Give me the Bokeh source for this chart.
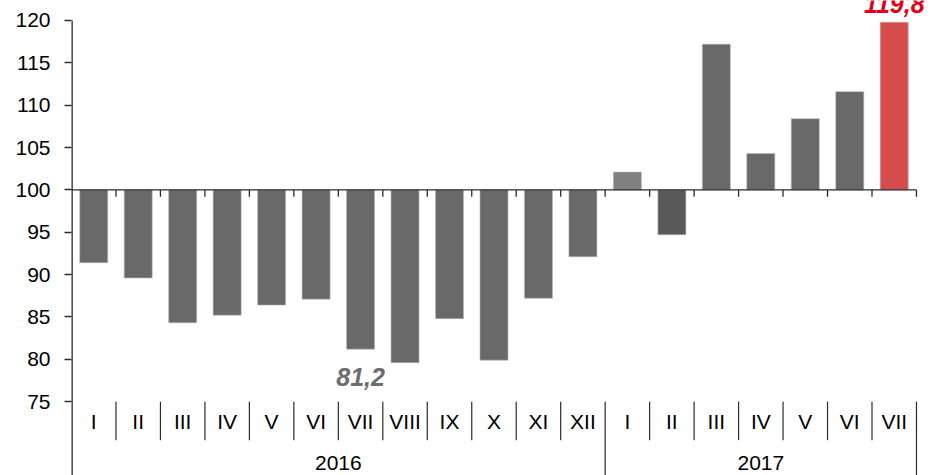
import numpy as np
from bokeh.plotting import figure
from bokeh.models import FixedTicker, Range1d
from bokeh.core.properties import value
from bokeh.embed import file_html
from bokeh.resources import INLINE

# ---- data ----
months = ["I", "II", "III", "IV", "V", "VI", "VII", "VIII", "IX", "X", "XI", "XII",
          "I", "II", "III", "IV", "V", "VI", "VII"]
years = ["2016", "2017"]
year_counts = [12, 7]
values = [91.4, 89.6, 84.3, 85.2, 86.4, 87.1, 81.2, 79.6, 84.8, 79.9, 87.2, 92.1,
          102.1, 94.7, 117.2, 104.3, 108.4, 111.6, 119.8]
y_ticks = [75, 80, 85, 90, 95, 100, 105, 110, 115, 120]
baseline = 100
labelled_low = 6      # index of the bar annotated below (VII 2016)
labelled_high = 18    # index of the bar annotated above (VII 2017)

# ---- styles ----
bar_colors = ["#696969"] * 12 + ["#808080", "#595959", "#696969", "#696969",
                                 "#696969", "#696969", "#d64b4b"]
FONT = "Liberation Sans"
AXIS_COLOR = "#2b2b2b"

n = len(values)
xc = np.arange(n) + 0.5
y_top, y_bottom = y_ticks[-1], y_ticks[0]

p = figure(width=933, height=475, output_backend="svg", toolbar_location=None,
           x_range=Range1d(0, n + 0.383), y_range=Range1d(66.28, 122.36),
           x_axis_location=None, min_border_left=71, min_border_right=0,
           min_border_top=0, min_border_bottom=0, outline_line_color=None,
           background_fill_color="white", border_fill_color="white")
p.grid.visible = False

p.vbar(x=xc, width=0.63, bottom=baseline, top=values, fill_color=bar_colors,
       line_color="#b8b8b8", line_width=0.8, line_alpha=0.7)

# y axis (line drawn separately so it stops at the top tick)
ya = p.yaxis[0]
ya.ticker = FixedTicker(ticks=y_ticks)
ya.axis_line_color = None
ya.major_tick_line_color = AXIS_COLOR
ya.major_tick_line_width = 1.3
ya.major_tick_out = 7
ya.major_tick_in = 0
ya.minor_tick_line_color = None
ya.major_label_text_font = FONT
ya.major_label_text_font_size = "21px"
ya.major_label_text_color = "black"
ya.major_label_standoff = 14
p.segment(x0=[0], y0=[60], x1=[0], y1=[y_top], line_color=AXIS_COLOR, line_width=2.6)

# horizontal axis at 100 with downward ticks at category boundaries
p.segment(x0=[0], y0=[baseline], x1=[n], y1=[baseline], line_color=AXIS_COLOR, line_width=1.3)
bx = np.arange(1, n + 1)
p.segment(x0=bx, y0=[baseline] * n, x1=bx, y1=[baseline - 0.8] * n,
          line_color=AXIS_COLOR, line_width=1.3)

# category axis below (months + years)
year_bounds = np.concatenate([[0], np.cumsum(year_counts)])
month_bounds = [b for b in range(1, n) if b not in year_bounds]
p.segment(x0=month_bounds, y0=[y_bottom] * len(month_bounds), x1=month_bounds,
          y1=[y_bottom - 4.55] * len(month_bounds), line_color=AXIS_COLOR, line_width=1.2)
yb = [int(b) for b in year_bounds[1:]]
p.segment(x0=yb, y0=[y_bottom] * len(yb), x1=yb, y1=[60] * len(yb),
          line_color=AXIS_COLOR, line_width=1.2)

p.text(x=xc, y=[y_bottom - 2.3] * n, text=months, text_font=value(FONT),
       text_font_size="21px", text_align="center", text_baseline="middle", text_color="black")
year_centers = (year_bounds[:-1] + year_bounds[1:]) / 2
p.text(x=year_centers, y=[y_bottom - 7.3] * len(years), text=years, text_font=value(FONT),
       text_font_size="21px", text_align="center", text_baseline="middle", text_color="black")

# annotations
lo = labelled_low
p.text(x=[xc[lo]], y=[values[lo] - 3.3], text=[f"{values[lo]:.1f}".replace(".", ",")],
       text_font=value(FONT), text_font_size="25px", text_font_style="bold italic",
       text_color="#6d6d6d", text_align="center", text_baseline="middle")
hi = labelled_high
p.text(x=[xc[hi]], y=[values[hi] + 2.2], text=[f"{values[hi]:.1f}".replace(".", ",")],
       text_font=value(FONT), text_font_size="25px", text_font_style="bold italic",
       text_color="#e2001a", text_align="center", text_baseline="middle")

open("out.html", "w").write(file_html(p, INLINE))
